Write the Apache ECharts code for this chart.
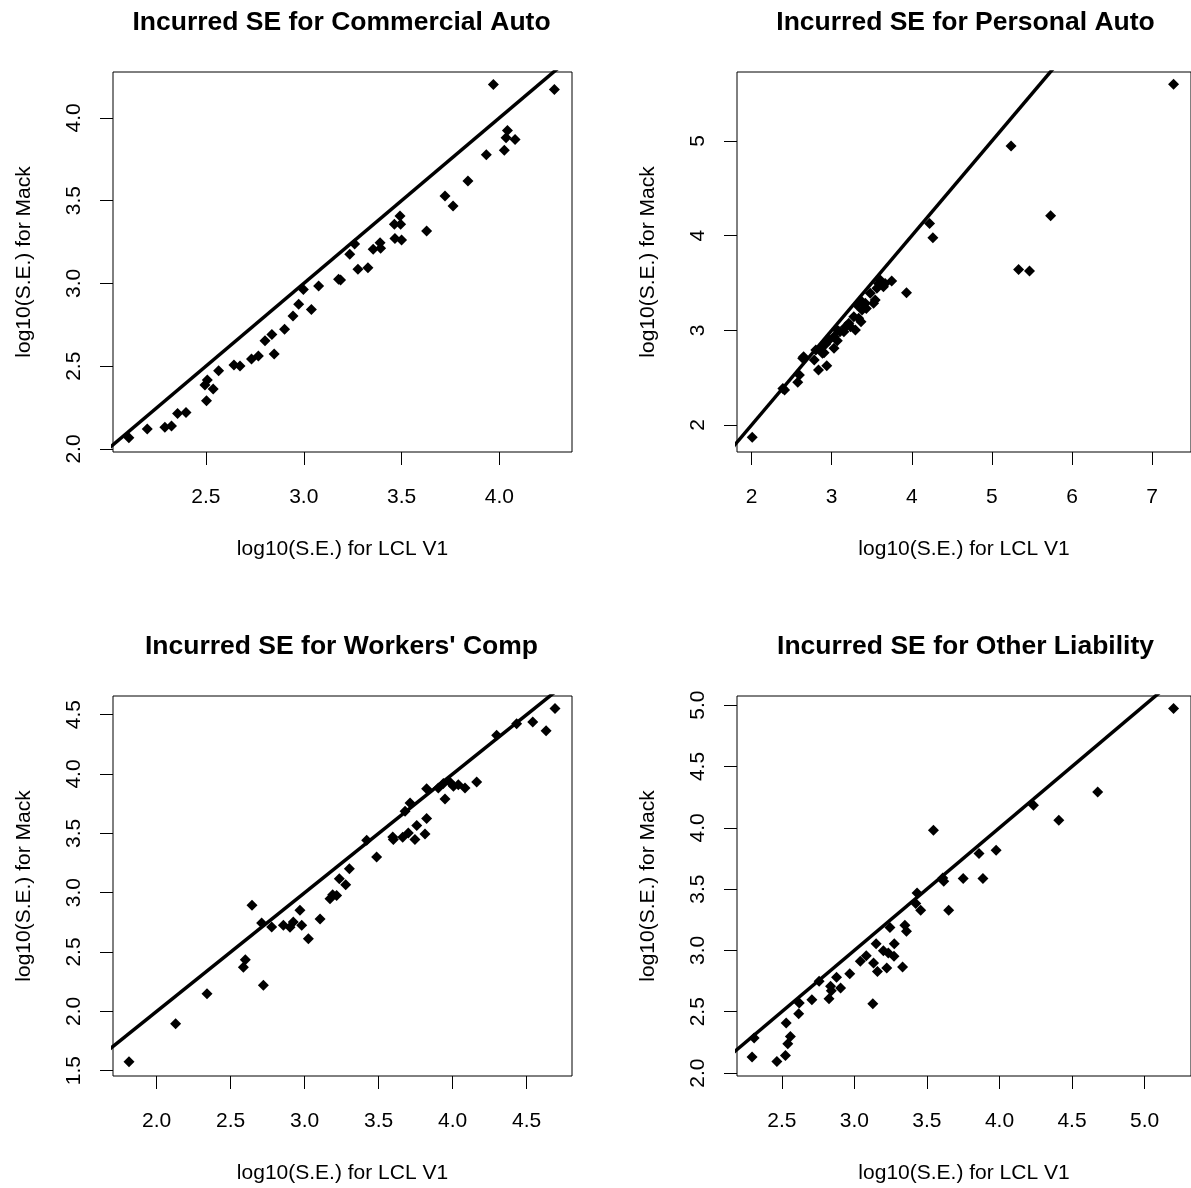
<!DOCTYPE html>
<html>
<head>
<meta charset="utf-8">
<script src="https://cdn.jsdelivr.net/npm/echarts@6/dist/echarts.min.js"></script>
<style>
html,body{margin:0;padding:0;background:#fff;}
#chart{width:1191px;height:1188px;}
</style>
</head>
<body>
<div id="chart"></div>
<script>
// ---- Data ----
const titles = ["Incurred SE for Commercial Auto", "Incurred SE for Personal Auto",
                "Incurred SE for Workers' Comp", "Incurred SE for Other Liability"];
const xName = "log10(S.E.) for LCL V1";
const yName = "log10(S.E.) for Mack";

const commercialX = [2.106,2.200,2.290,2.324,2.355,2.398,2.503,2.495,2.507,2.537,2.565,2.643,2.674,2.733,2.768,2.849,2.802,2.837,2.902,2.945,2.974,3.039,2.998,3.076,3.178,3.188,3.235,3.260,3.277,3.328,3.355,3.390,3.393,3.466,3.500,3.463,3.495,3.492,3.628,3.722,3.763,3.839,3.933,3.969,4.025,4.041,4.034,4.080,4.281];
const commercialY = [2.068,2.121,2.131,2.139,2.215,2.221,2.292,2.386,2.417,2.362,2.473,2.507,2.501,2.543,2.562,2.574,2.654,2.692,2.723,2.803,2.874,2.843,2.964,2.984,3.025,3.021,3.176,3.238,3.085,3.095,3.206,3.246,3.212,3.272,3.262,3.357,3.357,3.407,3.316,3.528,3.467,3.618,3.777,4.202,3.804,3.924,3.880,3.870,4.172];

const personalX = [2.008,2.391,2.412,2.576,2.597,2.650,2.782,2.835,2.938,2.864,2.905,2.926,3.029,3.029,3.070,3.103,3.173,3.214,3.296,3.276,3.366,3.317,3.379,3.432,3.481,3.543,3.564,3.605,3.667,3.749,3.934,4.222,4.263,5.239,5.333,5.469,5.733,7.267,2.638,2.802,2.885,2.967,3.070,3.152,3.235,3.337,3.420,3.523,3.584,3.646,3.379];
const personalY = [1.870,2.387,2.370,2.451,2.528,2.722,2.687,2.581,2.627,2.810,2.764,2.856,2.810,2.933,2.891,2.986,3.039,3.074,3.004,3.144,3.092,3.268,3.303,3.232,3.391,3.320,3.444,3.532,3.496,3.521,3.398,4.130,3.979,4.947,3.644,3.627,4.211,5.599,2.704,2.792,2.757,2.898,3.004,2.986,3.039,3.127,3.285,3.285,3.496,3.461,3.215];

const workersX = [1.813,2.128,2.340,2.586,2.599,2.721,2.644,2.709,2.777,2.856,2.901,2.923,2.968,2.980,3.025,3.104,3.171,3.189,3.216,3.234,3.277,3.302,3.419,3.486,3.599,3.595,3.662,3.700,3.745,3.757,3.813,3.824,3.678,3.712,3.824,3.948,3.937,3.982,4.005,4.038,4.083,4.162,4.297,4.432,4.541,4.631,4.691,3.903];
const workersY = [1.576,1.896,2.149,2.371,2.435,2.219,2.893,2.744,2.711,2.725,2.708,2.753,2.851,2.725,2.612,2.778,2.949,2.983,2.975,3.118,3.067,3.202,3.441,3.301,3.447,3.469,3.466,3.503,3.447,3.565,3.494,3.624,3.685,3.756,3.876,3.789,3.919,3.930,3.896,3.910,3.882,3.933,4.326,4.424,4.438,4.365,4.551,3.882];

const otherX = [2.295,2.309,2.466,2.525,2.541,2.559,2.530,2.616,2.620,2.707,2.757,2.825,2.841,2.836,2.905,2.877,2.968,3.041,3.082,3.127,3.132,3.159,3.150,3.223,3.200,3.234,3.273,3.275,3.332,3.245,3.359,3.348,3.423,3.432,3.457,3.545,3.616,3.650,3.750,3.886,3.859,3.977,4.234,4.409,4.677,5.200,3.609];
const otherY = [2.131,2.286,2.095,2.144,2.239,2.299,2.408,2.484,2.571,2.598,2.748,2.606,2.672,2.707,2.694,2.781,2.810,2.911,2.957,2.566,2.897,2.829,3.055,2.857,2.998,2.979,2.952,3.055,2.865,3.188,3.156,3.205,3.382,3.469,3.327,3.980,3.564,3.327,3.586,3.586,3.790,3.817,4.184,4.061,4.293,4.973,3.591];

// tick values
const commercialXTicks = [2.5,3.0,3.5,4.0];
const commercialYTicks = [2.0,2.5,3.0,3.5,4.0];
const personalXTicks = [2,3,4,5,6,7];
const personalYTicks = [2,3,4,5];
const workersXTicks = [2.0,2.5,3.0,3.5,4.0,4.5];
const workersYTicks = [1.5,2.0,2.5,3.0,3.5,4.0,4.5];
const otherXTicks = [2.5,3.0,3.5,4.0,4.5,5.0];
const otherYTicks = [2.0,2.5,3.0,3.5,4.0,4.5,5.0];

// y = x reference line endpoints (clipped to the plot box)
const refLine = [0, 10];

// ---- Layout ----
const FONT = "Liberation Sans, Arial, sans-serif";
const panels = [
  {xs: commercialX, ys: commercialY, xt: commercialXTicks, yt: commercialYTicks, dec: 1,
   xr: [2.025, 4.371], yr: [1.982, 4.277], left: 113, top: 72},
  {xs: personalX, ys: personalY, xt: personalXTicks, yt: personalYTicks, dec: 0,
   xr: [1.818, 7.485], yr: [1.715, 5.729], left: 737, top: 72},
  {xs: workersX, ys: workersY, xt: workersXTicks, yt: workersYTicks, dec: 1,
   xr: [1.705, 4.806], yr: [1.455, 4.657], left: 113, top: 696},
  {xs: otherX, ys: otherY, xt: otherXTicks, yt: otherYTicks, dec: 1,
   xr: [2.191, 5.32], yr: [1.976, 5.075], left: 737, top: 696}
];
const W = 459, H = 380;

const grid = [], xAxis = [], yAxis = [], series = [], title = [];
panels.forEach((p, i) => {
  grid.push({left: p.left, top: p.top, width: W, height: H, show: true,
             borderColor: '#000', borderWidth: 1, backgroundColor: 'transparent'});
  title.push({text: titles[i], left: p.left + W / 2 - 6, textAlign: 'center', top: p.top - 68,
              textStyle: {fontFamily: FONT, fontSize: 26.5, fontWeight: 'bold', color: '#000'}});
  const fmt = v => Number(v).toFixed(p.dec);
  xAxis.push({type: 'value', gridIndex: i, min: p.xr[0], max: p.xr[1],
    axisLine: {show: false}, splitLine: {show: false},
    axisTick: {show: true, length: 13, customValues: p.xt, lineStyle: {color: '#000', width: 1}},
    axisLabel: {customValues: p.xt, formatter: fmt, margin: 35, fontSize: 21, color: '#000', fontFamily: FONT},
    name: xName, nameLocation: 'middle', nameGap: 87,
    nameTextStyle: {fontSize: 21, color: '#000', fontFamily: FONT}});
  yAxis.push({type: 'value', gridIndex: i, min: p.yr[0], max: p.yr[1],
    axisLine: {show: false}, splitLine: {show: false},
    axisTick: {show: true, length: 13, customValues: p.yt, lineStyle: {color: '#000', width: 1}},
    axisLabel: {customValues: p.yt, formatter: fmt, rotate: 90, margin: 28, fontSize: 21, color: '#000', fontFamily: FONT},
    name: yName, nameLocation: 'middle', nameGap: 78,
    nameTextStyle: {fontSize: 21, color: '#000', fontFamily: FONT}});
  series.push({type: 'scatter', xAxisIndex: i, yAxisIndex: i, symbol: 'diamond', symbolSize: [11, 11],
    itemStyle: {color: '#000', opacity: 1}, silent: true,
    data: p.xs.map((x, k) => [x, p.ys[k]])});
  series.push({type: 'line', xAxisIndex: i, yAxisIndex: i, symbol: 'none', clip: true, silent: true,
    lineStyle: {color: '#000', width: 3.5},
    data: refLine.map(v => [v, v])});
});

const chart = echarts.init(document.getElementById('chart'), null, {renderer: 'canvas'});
chart.setOption({animation: false, backgroundColor: '#fff', title, grid, xAxis, yAxis, series});
</script>
</body>
</html>
